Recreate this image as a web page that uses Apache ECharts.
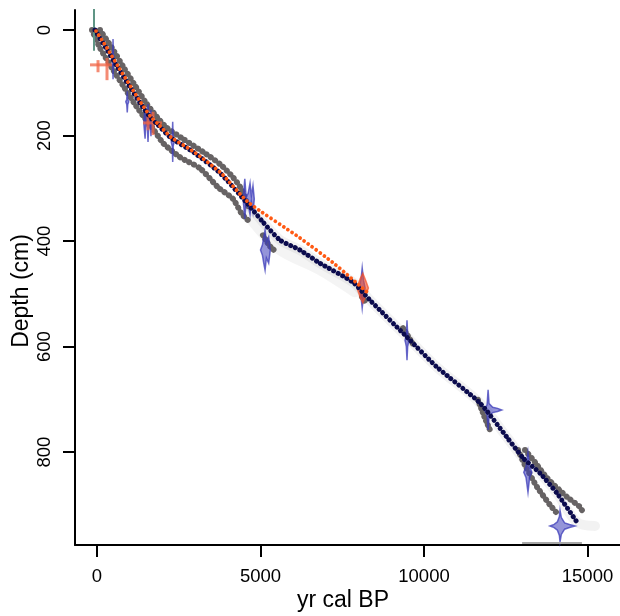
<!DOCTYPE html>
<html><head><meta charset="utf-8">
<script src="https://cdn.jsdelivr.net/npm/echarts@6/dist/echarts.min.js"></script>
<style>html,body{margin:0;padding:0;background:#fff}#c{width:620px;height:616px}</style>
</head><body><div id="c"></div>
<script>
// ---- data (age yr cal BP, depth cm) ----
const xTicks = [0, 5000, 10000, 15000];
const yTicks = [0, 200, 400, 600, 800];
const xTitle = 'yr cal BP';
const yTitle = 'Depth (cm)';

const meanModel = [[-61,0],[275,34],[642,72],[1009,108],[1315,138],[1621,165],[1835,178],[2232,203],[2936,231],[3761,271],[4587,328],[5076,364],[5596,398],[6208,417],[6820,442],[7829,478],[8349,512],[9480,582],[10398,639],[11713,707],[12538,772],[13028,811],[13547,840],[14067,878],[14679,933]];
const altModel = [[-30,2],[305,34],[672,72],[1039,108],[1345,138],[1651,165],[1865,178],[2262,203],[2966,231],[3791,271],[4618,326],[6208,394],[7278,444],[8318,500]];

const minUpper = [[-153,0],[92,34],[459,72],[826,108],[1131,138],[1437,165],[1682,184],[2018,214],[2538,241],[3150,262],[3700,298],[4159,320],[4434,349],[4679,364]];
const maxUpper = [[92,0],[459,34],[826,72],[1193,108],[1498,138],[1835,165],[2110,184],[2599,205],[3242,231],[3761,254],[4159,279],[4404,300],[4526,318],[4618,334]];
const rangeBlobs = [
  [[5076,389],[5260,408],[5474,421]],
  [[8104,506],[8257,519]],
  [[9358,565],[9664,595]],
  [[11651,701],[11865,736],[12018,758]]
];
const minLower = [[12875,796],[13089,825],[13456,866],[13853,900],[14098,918]];
const maxLower = [[13089,796],[13394,819],[13761,849],[14373,885],[14771,904],[14893,918]];

const cloudMain = [[4587,328],[5076,364],[5596,398],[6208,417],[6820,442],[7829,478],[8349,512],[9480,582],[10398,639],[11713,707],[12538,772],[13028,811],[13547,840],[14067,878],[14679,933],[15230,940]];
const cloudLow = [[4679,351],[5596,413],[6820,451],[7890,493]];

// calibrated date distributions: centre age, depth, profile [age, half-height cm]
const dateAges = [490, 925, 1560, 2315, 4650, 5140, 8110, 9480, 11960, 13180, 14160];
const dateDepths = [55, 136, 176, 212, 320, 417, 489, 588, 720, 838, 940];
const dateProfiles = [
  [[450,0],[480,6],[490,38],[500,10],[530,0]],
  [[880,0],[910,5],[925,20],[940,5],[970,0]],
  [[1430,0],[1470,30],[1490,3],[1540,8],[1560,36],[1580,8],[1630,3],[1650,25],[1680,0]],
  [[2270,0],[2300,8],[2315,38],[2330,8],[2360,0]],
  [[4470,0],[4520,38],[4560,5],[4620,10],[4680,30],[4720,5],[4770,25],[4810,0]],
  [[5000,0],[5060,10],[5100,25],[5140,38],[5180,15],[5250,25],[5300,0]],
  [[8020,0],[8080,20],[8110,38],[8150,15],[8200,0]],
  [[9420,0],[9460,12],[9480,38],[9500,12],[9540,0]],
  [[11850,0],[11930,10],[11960,38],[11990,12],[12100,5],[12250,3],[12380,0]],
  [[13050,0],[13120,10],[13180,38],[13230,10],[13300,0]],
  [[13850,0],[13980,3],[14080,8],[14140,18],[14160,30],[14200,16],[14300,6],[14450,3],[14620,0]]
];
// orange dated distribution (depth 489)
const orangeAges = [8130];
const orangeDepths = [489];
const orangeProfiles = [[[7950,0],[8050,18],[8130,28],[8220,14],[8300,0]]];
// orange cross markers: [age1, depth1, age2, depth2]
const orangeSegments = [
  [-214,66,459,66],[31,57,31,80],[306,53,306,95],
  [1407,176,1988,176],[1713,155,1713,199],[1560,162,1560,190]
];
const surfaceDate = [[-92,-42],[-92,38]];
const baseLine = [[13000,972],[14830,972]];

// ---- chart ----
const chart = echarts.init(document.getElementById('c'), null, {renderer:'canvas'});

function dotted(data, color, width, gap, z, smooth) {
  return {type:'line', data, symbol:'none', smooth: smooth == null ? 0.2 : smooth, z, silent:true,
    lineStyle:{color, width, type:[0.001, gap], cap:'round', join:'round'}};
}
function solid(data, color, width, z) {
  return {type:'line', data, symbol:'none', smooth:0.3, z, silent:true,
    lineStyle:{color, width, cap:'round', join:'round'}};
}
function distSeries(ages, depths, profiles, fill, stroke, z) {
  return {type:'custom', z, silent:true, clip:false,
    data: ages.map((a,i)=>[a, depths[i], i]),
    renderItem: function(params, api){
      const i = api.value(2), d = depths[i], prof = profiles[i];
      const top = prof.map(p=>api.coord([p[0], d - p[1]]));
      const bot = prof.slice().reverse().map(p=>api.coord([p[0], d + p[1]]));
      return {type:'polygon', shape:{points: top.concat(bot)}, style:{fill, stroke, lineWidth:1.5}};
    }};
}

const series = [
  solid(cloudMain, 'rgba(0,0,0,0.05)', 10, 1),
  solid(cloudLow, 'rgba(0,0,0,0.045)', 14, 1),
  dotted(minUpper, '#676364', 6, 5.2, 3),
  dotted(maxUpper, '#676364', 6, 5.2, 3),
  dotted(minLower, '#676364', 6, 5.2, 3),
  dotted(maxLower, '#676364', 6, 5.2, 3),
];
rangeBlobs.forEach(b => series.push(dotted(b, '#676364', 6, 4.5, 3, 0)));
series.push(
  distSeries(dateAges, dateDepths, dateProfiles, 'rgba(60,60,185,0.55)', 'rgba(60,60,185,0.75)', 4),
  distSeries(orangeAges, orangeDepths, orangeProfiles, 'rgba(245,80,40,0.6)', 'rgba(245,80,40,0.7)', 5),
  {type:'custom', z:5, silent:true, data: orangeSegments,
    renderItem: function(params, api){
      const p1 = api.coord([api.value(0), api.value(1)]), p2 = api.coord([api.value(2), api.value(3)]);
      return {type:'line', shape:{x1:p1[0], y1:p1[1], x2:p2[0], y2:p2[1]}, style:{stroke:'rgba(240,100,70,0.75)', lineWidth:3}};
    }},
  solid(surfaceDate, '#5f9585', 2, 5),
  {type:'line', data: baseLine, symbol:'none', z:5, silent:true, lineStyle:{color:'#a8a8a8', width:2}}
);
series.push(dotted(meanModel, '#0b0b4d', 5, 5.0, 6));
series.push(dotted(altModel, '#ff5a14', 3.8, 5.0, 7));

const plainNum = v => String(v);

chart.setOption({
  animation:false,
  backgroundColor:'#fff',
  grid:{left:75, right:0, top:10, bottom:71},
  xAxis:{type:'value', min:-673, max:15994,
    axisLine:{onZero:false, lineStyle:{color:'#000', width:2}},
    axisTick:{length:12, lineStyle:{color:'#000', width:2}, customValues:xTicks},
    axisLabel:{customValues:xTicks, formatter:plainNum, fontSize:18.5, color:'#000', margin:22, fontFamily:'Liberation Sans'},
    splitLine:{show:false}},
  yAxis:{type:'value', inverse:true, min:-38, max:976,
    axisLine:{onZero:false, lineStyle:{color:'#000', width:2}},
    axisTick:{length:12, lineStyle:{color:'#000', width:2}, customValues:yTicks},
    axisLabel:{customValues:yTicks, formatter:plainNum, rotate:90, fontSize:18.5, color:'#000', margin:21, fontFamily:'Liberation Sans'},
    splitLine:{show:false}},
  graphic:[
    {type:'text', x:343, y:601, silent:true,
      style:{text:xTitle, font:'23px "Liberation Sans"', fill:'#000', align:'center', verticalAlign:'middle'}},
    {type:'text', x:22, y:291, rotation:Math.PI/2, silent:true,
      style:{text:yTitle, font:'23px "Liberation Sans"', fill:'#000', align:'center', verticalAlign:'middle'}}
  ],
  series
});
</script></body></html>
